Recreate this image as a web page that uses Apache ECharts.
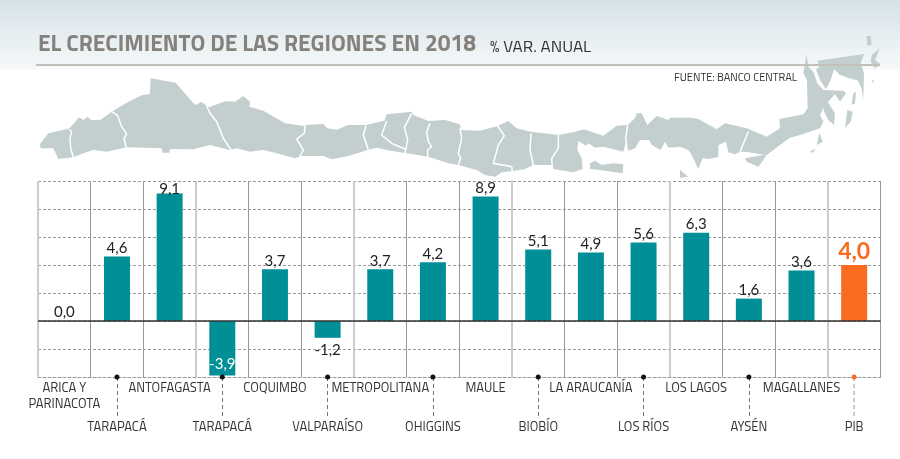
<!DOCTYPE html>
<html lang="es">
<head>
<meta charset="utf-8">
<title>Crecimiento regiones</title>
<style>html,body{margin:0;background:#fff}#c{width:900px;height:459px}</style>
</head>
<body>
<div id="c"></div>
<script src="https://cdn.jsdelivr.net/npm/echarts@6/dist/echarts.min.js"></script>
<script>
var regiones = ['ARICA Y\nPARINACOTA','TARAPACÁ','ANTOFAGASTA','TARAPACÁ','COQUIMBO','VALPARAÍSO','METROPOLITANA','OHIGGINS','MAULE','BIOBÍO','LA ARAUCANÍA','LOS RÍOS','LOS LAGOS','AYSÉN','MAGALLANES','PIB'];
var variacion = [0.0,4.6,9.1,-3.9,3.7,-1.2,3.7,4.2,8.9,5.1,4.9,5.6,6.3,1.6,3.6,4.0];

var fuente = "Titillium Web, 'Liberation Sans Narrow', 'Noto Sans', sans-serif";
var chart = echarts.init(document.getElementById('c'), null, {renderer: 'canvas'});

// mapa decorativo, calcado a mano (x0, y0 = origen del recorte, puntos a escala 3x)
function calco(x0, y0, pts) {
    return pts.map(function (p) { return [x0 + p[0] / 3, y0 + p[1] / 3]; });
}
var contorno = [].concat(
    calco(30, 70, [[30,222],[55,190],[115,176],[123,170],[147,142],[160,150],[172,141],[185,151],[212,149],[245,125],[290,98],[335,76],[360,72],[362,25],[437,38],[495,105],[515,96],[530,108],[538,112],[585,94],[615,95],[640,78],[660,95],[658,110],[700,122],[765,160],[822,168]]),
    calco(295, 95, [[30,90],[85,87],[97,100],[125,104],[160,90],[213,90],[268,77],[275,58],[350,50],[355,60],[400,78],[450,75],[495,88],[498,105],[555,107],[608,93],[640,78],[665,100],[708,110],[790,120],[840,110]]),
    calco(570, 95, [[42,103],[100,122],[140,92],[173,90],[195,70],[200,55],[215,55],[232,90],[260,63],[295,75],[300,68],[360,68],[385,72],[440,103],[465,85],[530,100],[590,125],[630,100],[628,72],[700,58]]),
    calco(760, 30, [[143,235],[141,150],[130,130],[139,75],[146,112],[160,125],[172,160],[190,180],[250,182],[258,190],[240,215],[225,192],[205,215],[190,235],[180,255],[190,275],[180,295],[120,315]]),
    calco(570, 95, [[660,128],[630,150],[590,180],[525,170],[510,170],[495,178],[475,172],[468,140],[445,150],[445,185],[418,192],[398,190],[385,222],[365,180],[355,165],[330,155],[295,158],[285,140],[272,165],[245,150],[238,135],[210,135],[195,160],[172,168],[168,140],[160,170],[100,155],[75,158],[55,145],[48,152],[25,138],[22,165],[35,190],[38,222],[10,232],[0,230]]),
    calco(295, 95, [[775,222],[770,210],[715,210],[690,222],[655,228],[620,232],[600,245],[570,240],[545,225],[490,210],[460,205],[400,185],[335,175],[275,165],[245,158],[218,165],[160,183],[110,193],[85,183],[20,183],[0,190]]),
    calco(30, 70, [[740,250],[700,240],[660,245],[620,235],[600,240],[540,225],[490,238],[420,237],[418,248],[397,248],[395,235],[290,232],[230,245],[190,240],[160,250],[130,262],[85,267],[70,235],[32,235]])
);
var islas = [
    calco(570, 95, [[60,205],[75,197],[95,210],[130,205],[160,208],[158,235],[90,225],[60,222]]),
    calco(570, 95, [[330,225],[355,245],[330,248]]),
    calco(570, 95, [[525,190],[590,178],[580,195],[565,215],[530,200]]),
    calco(760, 30, [[172,92],[312,72],[302,100],[312,130],[310,207],[305,175],[292,150],[278,148],[240,135],[222,118],[212,150],[198,178],[180,150],[168,118],[178,112]]),
    calco(760, 30, [[320,18],[332,18],[335,45],[322,48]]),
    calco(760, 30, [[335,75],[360,55],[345,90],[362,103],[345,115],[332,95]]),
    calco(760, 30, [[195,220],[205,218],[225,250],[222,285],[205,270],[190,240]]),
    calco(760, 30, [[262,240],[278,245],[272,275],[255,293]]),
    calco(760, 30, [[280,190],[288,185],[285,220],[275,225]]),
    calco(760, 30, [[170,345],[178,308],[188,335]]),
    calco(760, 30, [[150,365],[165,355],[160,368]]),
    calco(760, 30, [[335,150],[342,152],[340,160]])
];
var lago = calco(760, 30, [[240,165],[262,150],[278,160],[258,175]]);
var limites = [
    calco(30, 70, [[117,178],[125,185],[120,205],[122,235],[130,262]]),
    calco(30, 70, [[245,125],[262,135],[275,170],[290,192],[282,205],[288,232]]),
    calco(30, 70, [[530,108],[540,130],[560,155],[580,205],[595,228],[605,240]]),
    calco(295, 95, [[30,90],[28,115],[5,132],[25,165],[15,183],[18,192]]),
    calco(295, 95, [[213,92],[205,120],[220,165]]),
    calco(295, 95, [[275,78],[260,120],[290,145],[330,162]]),
    calco(295, 95, [[350,55],[328,97],[338,135],[330,175]]),
    calco(295, 95, [[405,85],[395,110],[400,140],[410,155],[398,165],[398,185]]),
    calco(295, 95, [[495,100],[500,130],[490,175],[497,190],[490,210]]),
    calco(295, 95, [[608,93],[628,122],[610,150],[595,205],[650,215],[652,228]]),
    calco(295, 95, [[708,115],[705,165],[715,210]]),
    calco(295, 95, [[790,120],[790,160],[770,190],[772,222]]),
    calco(570, 95, [[173,90],[167,130],[172,168]]),
    calco(570, 95, [[535,110],[510,170]])
];

function etiqueta(v, i) {
    var base = {show: true, position: 'top', distance: 1, color: '#222', fontSize: 15, fontFamily: 'Lato'};
    if (i == 15) { base.color = '#f96b1e'; base.fontSize = 23; base.fontWeight = 'bold'; base.distance = 2; }
    if (i == 2) base.distance = -3;
    if (i == 3) { base.position = 'insideBottom'; base.color = '#fff'; base.distance = 4; }
    if (i == 5) { base.position = 'bottom'; base.distance = 5; }
    return base;
}

var grafico = [
    {type: 'rect', z: -10, shape: {x: 0, y: 0, width: 900, height: 70},
        style: {fill: new echarts.graphic.LinearGradient(0, 0, 0, 1, [{offset: 0, color: '#d5e2e7'}, {offset: 1, color: '#f7f9fa'}])}},
    {type: 'polygon', z: -8, shape: {points: contorno}, style: {fill: '#c3cece'}}
];
islas.forEach(function (p) {
    grafico.push({type: 'polygon', z: -8, shape: {points: p}, style: {fill: '#c3cece'}});
});
grafico.push({type: 'polygon', z: -7, shape: {points: lago}, style: {fill: '#fff'}});
limites.forEach(function (p) {
    grafico.push({type: 'polyline', z: -7, shape: {points: p}, style: {stroke: '#fff', lineWidth: 1.5, fill: null}});
});
grafico.push(
    {type: 'rect', z: -6, shape: {x: 36, y: 64, width: 844, height: 2}, style: {fill: '#c3bfb9'}},
    {type: 'text', x: 38, y: 45, scaleX: 0.948, style: {text: 'EL CRECIMIENTO DE LAS REGIONES EN 2018', fill: '#85817c', font: "bold 24px " + fuente, textVerticalAlign: 'middle'}},
    {type: 'text', x: 490, y: 48, scaleX: 1.06, style: {text: '% VAR. ANUAL', fill: '#333', font: "16px " + fuente, textVerticalAlign: 'middle'}},
    {type: 'text', x: 674, y: 78, style: {text: 'FUENTE: BANCO CENTRAL', fill: '#333', font: "11px " + fuente, textVerticalAlign: 'middle'}}
);

chart.setOption({
    animation: false,
    grid: {left: 38, right: 19.5, top: 181, height: 196},
    xAxis: [
        // lineas finas + etiquetas de arriba (transparente donde va la gruesa)
        {type: 'category', data: regiones, position: 'bottom',
            axisLine: {onZero: false, lineStyle: {color: '#999', type: [3, 2], width: 1}},
            axisTick: {show: false},
            axisLabel: {interval: function (i) { return i % 2 == 0; }, margin: 4, color: '#333', fontSize: 13, lineHeight: 16, fontFamily: fuente},
            splitLine: {show: true, interval: 0, lineStyle: {color: ['transparent', '#999', '#999'], width: 1}}
        },
        // etiquetas de abajo con guias
        {type: 'category', data: regiones, position: 'bottom',
            axisLine: {show: false, onZero: false},
            axisTick: {show: true, alignWithLabel: true, length: 40, interval: function (i) { return i % 2 == 1 && i != 15; }, lineStyle: {color: '#777', type: [4, 3], width: 1}},
            axisLabel: {interval: function (i) { return i % 2 == 1; }, margin: 44, color: '#333', fontSize: 13, fontFamily: fuente},
            splitLine: {show: false}
        },
        // guia del PIB
        {type: 'category', data: regiones, position: 'bottom',
            axisLine: {show: false, onZero: false},
            axisTick: {show: true, alignWithLabel: true, length: 40, interval: function (i) { return i == 15; }, lineStyle: {color: '#bbb', type: [4, 3], width: 1.5}},
            axisLabel: {show: false},
            splitLine: {show: false}
        },
        // lineas gruesas cada tres regiones
        {type: 'value', min: 0, max: 16, interval: 3, position: 'bottom',
            axisLine: {show: false, onZero: false}, axisTick: {show: false}, axisLabel: {show: false},
            splitLine: {show: true, showMaxLine: false, lineStyle: {color: '#ccc', width: 2}}
        }
    ],
    yAxis: {type: 'value', min: -4, max: 10, interval: 2,
        axisLine: {show: false}, axisTick: {show: false}, axisLabel: {show: false},
        splitLine: {lineStyle: {color: '#999', type: [3, 2], width: 1}}
    },
    series: [
        {type: 'bar', barWidth: 26,
            data: variacion.map(function (v, i) {
                return {value: v, itemStyle: {color: i == 15 ? '#f96b1e' : '#008f96'}, label: etiqueta(v, i)};
            }),
            label: {formatter: function (p) { return p.value.toFixed(1).replace('.', ','); }},
            markLine: {silent: true, symbol: 'none', label: {show: false}, data: [{yAxis: 0}], lineStyle: {color: '#333', type: 'solid', width: 1.5}}
        },
        {type: 'scatter', symbolSize: 5, clip: false, z: 5,
            data: variacion.map(function (v, i) {
                return i % 2 == 1 ? {value: [i, -4], itemStyle: {color: i == 15 ? '#f96b1e' : '#111', opacity: 1}} : null;
            }).filter(Boolean)
        }
    ],
    graphic: grafico
});
</script>
</body>
</html>
